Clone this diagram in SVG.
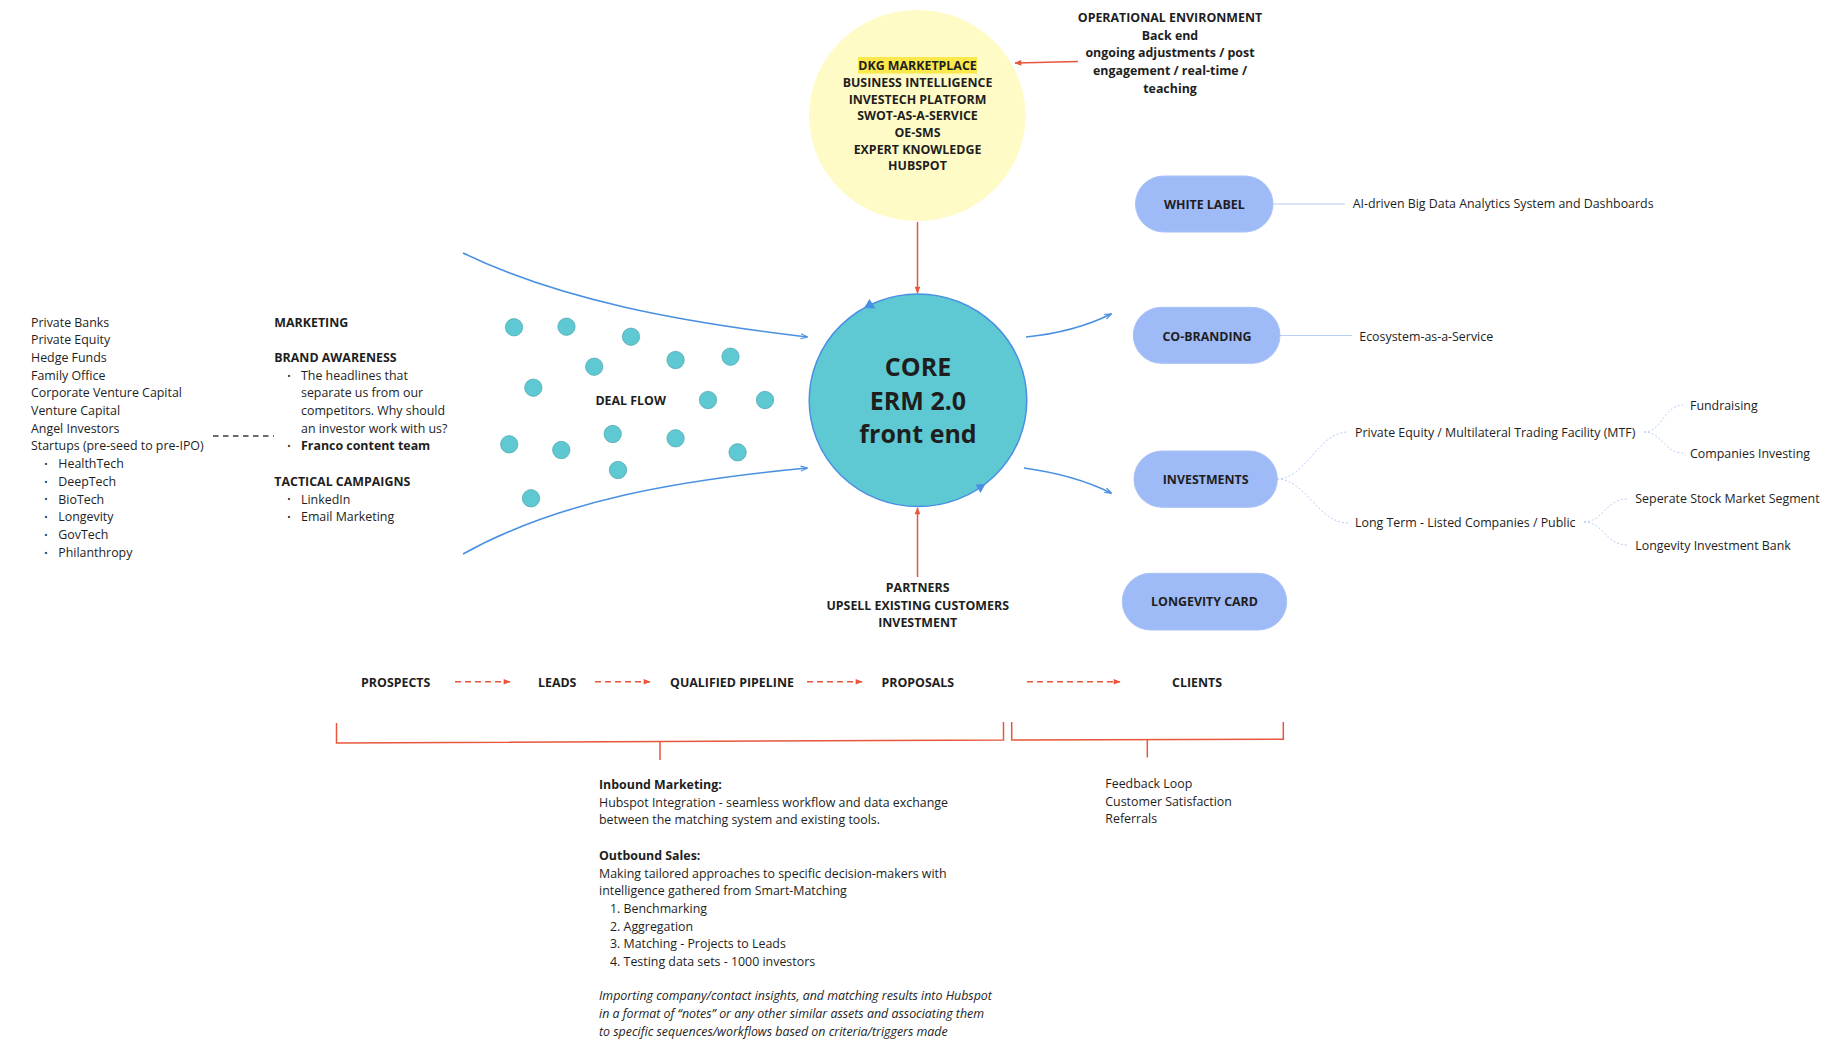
<svg xmlns="http://www.w3.org/2000/svg" width="1838" height="1056" viewBox="0 0 1838 1056">
<style>
.t{font-family:"Open Sans","Liberation Sans",sans-serif;font-size:12.4px;fill:#1e1e1e}
.b{font-weight:700}
.c{text-anchor:middle}
.i{font-style:italic}
.big{font-size:25px;font-weight:700}
.bul{font-size:9px}
.red{stroke:#e8573d;stroke-width:1.5;fill:none}
.blue{stroke:#4a90e2;stroke-width:1.6;fill:none}
.lite{stroke:#b9cdf5;stroke-width:1.2;fill:none}
.dot{stroke:#b9cdf5;stroke-width:1;fill:none;stroke-dasharray:2 2}
.pill{fill:#9ebaf7;stroke:#a9c2f6;stroke-width:1}
.deal{fill:#5fc9d3;stroke:#3f9aa3;stroke-width:0.6}
</style>
<defs>
<marker id="ar" viewBox="0 0 10 10" refX="9" refY="5" markerWidth="8" markerHeight="7" orient="auto-start-reverse" markerUnits="userSpaceOnUse">
<path d="M0,1 L10,5 L0,9z" fill="#e8573d"/>
</marker>
<marker id="ab" viewBox="0 0 10 10" refX="9" refY="5" markerWidth="8" markerHeight="7" orient="auto" markerUnits="userSpaceOnUse">
<path d="M0,1.5 L10,5 L0,8.5" fill="none" stroke="#4a90e2" stroke-width="1.6"/>
</marker>
</defs>
<rect width="1838" height="1056" fill="#ffffff"/>

<g id="connectors">
<path class="red" d="M1078,61.5 L1015,63" marker-end="url(#ar)"/>
<path class="red" d="M917.5,222 L917.5,293" marker-end="url(#ar)"/>
<path class="red" d="M917.5,577 L917.5,508" marker-end="url(#ar)"/>
<path class="blue" d="M463,253 C560,300 680,322 807,337" marker-end="url(#ab)"/>
<path class="blue" d="M463,554 C560,500 680,480 807,468" marker-end="url(#ab)"/>
<path class="blue" d="M1026,337 Q1075,332 1111,314" marker-end="url(#ab)"/>
<path class="blue" d="M1024,468 Q1075,475 1111,493" marker-end="url(#ab)"/>
<path class="lite" d="M1273,204 L1345,204"/>
<path class="lite" d="M1280,335.5 L1352,335.5"/>
<path class="dot" d="M1277,479 C1306,479 1318,432 1348,432"/>
<path class="dot" d="M1277,479 C1306,479 1318,523 1348,523"/>
<path class="dot" d="M1644,432 C1662,432 1664,405 1683,405"/>
<path class="dot" d="M1644,432 C1662,432 1664,453 1683,453"/>
<path class="dot" d="M1584,522 C1603,522 1606,499 1627,499"/>
<path class="dot" d="M1584,522 C1603,522 1606,545 1627,545"/>
<path d="M213,436 L274,436" stroke="#3a3a3a" stroke-width="1.3" stroke-dasharray="5.5 4.5" fill="none"/>
<path class="red" d="M455,681.7 L510,681.7" stroke-dasharray="6 4" marker-end="url(#ar)"/>
<path class="red" d="M595,681.7 L650,681.7" stroke-dasharray="6 4" marker-end="url(#ar)"/>
<path class="red" d="M807,681.7 L862,681.7" stroke-dasharray="6 4" marker-end="url(#ar)"/>
<path class="red" d="M1027,681.7 L1120,681.7" stroke-dasharray="6 4" marker-end="url(#ar)"/>
<path class="red" d="M336.5,723 L336.5,743 L1003.5,740 L1003.5,722"/>
<path class="red" d="M660,741.5 L660,760"/>
<path class="red" d="M1011.7,722 L1011.7,740 L1283.3,739.3 L1283.3,722"/>
<path class="red" d="M1147.3,740 L1147.3,757.5"/>
</g>

<g id="node-dkg">
<ellipse cx="917.3" cy="115.5" rx="108.3" ry="105.5" fill="#fffbc6"/>
<rect x="858" y="57" width="119" height="16.5" fill="#fbe94b"/>
<text class="t b c" x="917.5" y="70.2">DKG MARKETPLACE</text>
<text class="t b c" x="917.5" y="86.9">BUSINESS INTELLIGENCE</text>
<text class="t b c" x="917.5" y="103.6">INVESTECH PLATFORM</text>
<text class="t b c" x="917.5" y="120.3">SWOT-AS-A-SERVICE</text>
<text class="t b c" x="917.5" y="137">OE-SMS</text>
<text class="t b c" x="917.5" y="153.7">EXPERT KNOWLEDGE</text>
<text class="t b c" x="917.5" y="170.4">HUBSPOT</text>
</g>

<g id="node-ops">
<text class="t b c" x="1170" y="21.8">OPERATIONAL ENVIRONMENT</text>
<text class="t b c" x="1170" y="39.5">Back end</text>
<text class="t b c" x="1170" y="57.2">ongoing adjustments / post</text>
<text class="t b c" x="1170" y="74.9">engagement / real-time /</text>
<text class="t b c" x="1170" y="92.6">teaching</text>
</g>

<g id="node-core">
<ellipse cx="918" cy="400.3" rx="108.8" ry="106.3" fill="#5fc9d3" stroke="#4a90e2" stroke-width="1.5"/>
<polygon points="869.5,299 864,308 875.5,308.5" fill="#4a90e2"/>
<polygon points="975.5,484.5 985.5,484 980.5,493" fill="#4a90e2"/>
<text class="t big c" x="918" y="376.2">CORE</text>
<text class="t big c" x="918" y="409.7">ERM 2.0</text>
<text class="t big c" x="918" y="443">front end</text>
</g>

<g id="node-dealflow">
<circle class="deal" cx="514" cy="327.3" r="8.7"/>
<circle class="deal" cx="566.5" cy="326.7" r="8.7"/>
<circle class="deal" cx="631" cy="336.7" r="8.7"/>
<circle class="deal" cx="594.2" cy="366.7" r="8.7"/>
<circle class="deal" cx="675.6" cy="360" r="8.7"/>
<circle class="deal" cx="730.5" cy="356.7" r="8.7"/>
<circle class="deal" cx="533.3" cy="387.7" r="8.7"/>
<circle class="deal" cx="708" cy="400" r="8.7"/>
<circle class="deal" cx="765" cy="400" r="8.7"/>
<circle class="deal" cx="509.2" cy="444.3" r="8.7"/>
<circle class="deal" cx="561.3" cy="450" r="8.7"/>
<circle class="deal" cx="612.7" cy="434" r="8.7"/>
<circle class="deal" cx="675.6" cy="438.3" r="8.7"/>
<circle class="deal" cx="737.6" cy="452.3" r="8.7"/>
<circle class="deal" cx="618" cy="470" r="8.7"/>
<circle class="deal" cx="531" cy="498.3" r="8.7"/>
<text class="t b c" x="630.7" y="404.8">DEAL FLOW</text>
</g>

<g id="node-investors">
<text class="t" x="31" y="326.5">Private Banks</text>
<text class="t" x="31" y="344.2">Private Equity</text>
<text class="t" x="31" y="361.9">Hedge Funds</text>
<text class="t" x="31" y="379.6">Family Office</text>
<text class="t" x="31" y="397.3">Corporate Venture Capital</text>
<text class="t" x="31" y="415">Venture Capital</text>
<text class="t" x="31" y="432.7">Angel Investors</text>
<text class="t" x="31" y="450.4">Startups (pre-seed to pre-IPO)</text>
<text class="t bul" x="44.2" y="467">•</text><text class="t" x="58.3" y="468.1">HealthTech</text>
<text class="t bul" x="44.2" y="484.7">•</text><text class="t" x="58.3" y="485.8">DeepTech</text>
<text class="t bul" x="44.2" y="502.4">•</text><text class="t" x="58.3" y="503.5">BioTech</text>
<text class="t bul" x="44.2" y="520.1">•</text><text class="t" x="58.3" y="521.2">Longevity</text>
<text class="t bul" x="44.2" y="537.8">•</text><text class="t" x="58.3" y="538.9">GovTech</text>
<text class="t bul" x="44.2" y="555.5">•</text><text class="t" x="58.3" y="556.6">Philanthropy</text>
</g>

<g id="node-marketing">
<text class="t b" x="274.3" y="326.8">MARKETING</text>
<text class="t b" x="274.3" y="361.8">BRAND AWARENESS</text>
<text class="t bul" x="287.2" y="378.5">•</text>
<text class="t" x="301" y="379.6">The headlines that</text>
<text class="t" x="301" y="397.3">separate us from our</text>
<text class="t" x="301" y="415">competitors. Why should</text>
<text class="t" x="301" y="432.7">an investor work with us?</text>
<text class="t bul" x="287.2" y="449.3">•</text>
<text class="t b" x="301" y="450.4">Franco content team</text>
<text class="t b" x="274.3" y="486.2">TACTICAL CAMPAIGNS</text>
<text class="t bul" x="287.2" y="502.4">•</text>
<text class="t" x="301" y="503.5">LinkedIn</text>
<text class="t bul" x="287.2" y="520.1">•</text>
<text class="t" x="301" y="521.2">Email Marketing</text>
</g>

<g id="node-white-label">
<rect class="pill" x="1135.5" y="176" width="137.5" height="56" rx="28"/>
<text class="t b c" x="1204.3" y="208.5">WHITE LABEL</text>
</g>
<g id="node-white-label-desc">
<text class="t" x="1352.7" y="208.3">AI-driven Big Data Analytics System and Dashboards</text>
</g>

<g id="node-co-branding">
<rect class="pill" x="1133.3" y="307.3" width="146.7" height="56" rx="28"/>
<text class="t b c" x="1207" y="340.8">CO-BRANDING</text>
</g>
<g id="node-co-branding-desc">
<text class="t" x="1359.3" y="340.7">Ecosystem-as-a-Service</text>
</g>

<g id="node-investments">
<rect class="pill" x="1134" y="451" width="143.3" height="56.3" rx="28"/>
<text class="t b c" x="1205.7" y="484.2">INVESTMENTS</text>
</g>
<g id="node-inv-pe">
<text class="t" x="1355" y="436.5">Private Equity / Multilateral Trading Facility (MTF)</text>
</g>
<g id="node-inv-lt">
<text class="t" x="1355" y="527.3">Long Term - Listed Companies / Public</text>
</g>
<g id="node-inv-fund">
<text class="t" x="1690" y="409.7">Fundraising</text>
</g>
<g id="node-inv-comp">
<text class="t" x="1690" y="457.7">Companies Investing</text>
</g>
<g id="node-inv-seg">
<text class="t" x="1635.3" y="503.3">Seperate Stock Market Segment</text>
</g>
<g id="node-inv-bank">
<text class="t" x="1635.3" y="549.7">Longevity Investment Bank</text>
</g>

<g id="node-longevity-card">
<rect class="pill" x="1122.3" y="573.3" width="164.4" height="56.7" rx="28.3"/>
<text class="t b c" x="1204.5" y="606.2">LONGEVITY CARD</text>
</g>

<g id="node-partners">
<text class="t b c" x="917.7" y="591.8">PARTNERS</text>
<text class="t b c" x="917.7" y="609.5">UPSELL EXISTING CUSTOMERS</text>
<text class="t b c" x="917.7" y="627.2">INVESTMENT</text>
</g>

<g id="node-pipeline">
<text class="t b c" x="395.7" y="686.8">PROSPECTS</text>
<text class="t b c" x="557.2" y="686.8">LEADS</text>
<text class="t b c" x="732" y="686.8">QUALIFIED PIPELINE</text>
<text class="t b c" x="917.8" y="686.8">PROPOSALS</text>
<text class="t b c" x="1197" y="686.8">CLIENTS</text>
</g>

<g id="node-sales">
<text class="t b" x="599" y="789">Inbound Marketing:</text>
<text class="t" x="599" y="806.7">Hubspot Integration - seamless workflow and data exchange</text>
<text class="t" x="599" y="824.4">between the matching system and existing tools.</text>
<text class="t b" x="599" y="859.8">Outbound Sales:</text>
<text class="t" x="599" y="877.5">Making tailored approaches to specific decision-makers with</text>
<text class="t" x="599" y="895.2">intelligence gathered from Smart-Matching</text>
<text class="t" x="610" y="912.9">1. Benchmarking</text>
<text class="t" x="610" y="930.6">2. Aggregation</text>
<text class="t" x="610" y="948.3">3. Matching - Projects to Leads</text>
<text class="t" x="610" y="966">4. Testing data sets - 1000 investors</text>
<text class="t i" x="599" y="1000.4">Importing company/contact insights, and matching results into Hubspot</text>
<text class="t i" x="599" y="1018.1">in a format of “notes” or any other similar assets and associating them</text>
<text class="t i" x="599" y="1035.8">to specific sequences/workflows based on criteria/triggers made</text>
</g>

<g id="node-clients-notes">
<text class="t" x="1105.3" y="788.3">Feedback Loop</text>
<text class="t" x="1105.3" y="805.7">Customer Satisfaction</text>
<text class="t" x="1105.3" y="823.3">Referrals</text>
</g>
</svg>
